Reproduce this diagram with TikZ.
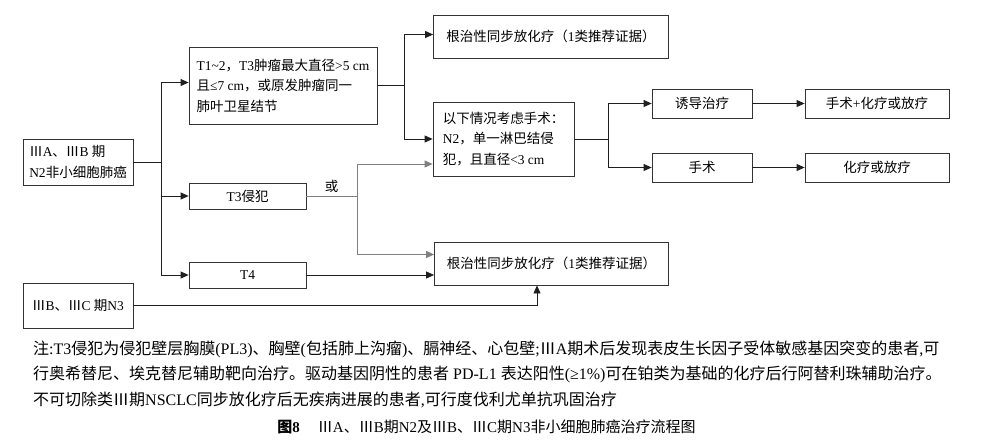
\documentclass[tikz,border=0pt]{standalone}
\usepackage{fontspec}
\setmainfont{Liberation Serif}
\newfontfamily\cjk{Noto Sans CJK SC}
\usetikzlibrary{arrows.meta}
% CJK characters switch to the CJK font, the rest stays serif
\XeTeXinterchartokenstate=1
\count255="4E00
\loop \XeTeXcharclass\count255=1 \advance\count255 1 \ifnum\count255<"A000 \repeat
\count255="3000
\loop \XeTeXcharclass\count255=1 \advance\count255 1 \ifnum\count255<"3040 \repeat
\count255="FF00
\loop \XeTeXcharclass\count255=1 \advance\count255 1 \ifnum\count255<"FF60 \repeat
\XeTeXcharclass"2162=1
\XeTeXinterchartoks 0 1 = {\cjk}
\XeTeXinterchartoks 4095 1 = {\cjk}
\XeTeXinterchartoks 1 0 = {\rmfamily}
\XeTeXinterchartoks 1 4095 = {\rmfamily}
\definecolor{boxc}{gray}{0.2}
\definecolor{linec}{gray}{0.12}
\definecolor{greyc}{gray}{0.5}

\begin{document}
\begin{tikzpicture}[x=1pt,y=-1pt,
    box/.style={draw=boxc, line width=0.8pt, inner sep=2pt, font=\fontsize{13.5}{20.5}\selectfont},
    link/.style={line width=0.8pt, draw=linec, -{Triangle[length=8pt,width=7pt]}},
    plain/.style={line width=0.8pt, draw=linec},
    note/.style={anchor=west, inner sep=0pt, font=\fontsize{16}{20}\selectfont}]
    \useasboundingbox (0,0) rectangle (981,444);

    % left column
    \node[box, minimum width=110pt, minimum height=46pt, align=left] (stage) at (78,162) {ⅢA、ⅢB 期\\N2非小细胞肺癌};
    \node[box, minimum width=110pt, minimum height=45pt] (nthree) at (78,305.5) {ⅢB、ⅢC 期N3};

    % T categories
    \node[box, minimum width=188pt, minimum height=77pt, align=left] (tsize) at (283,85.5) {T1\textasciitilde 2，T3肿瘤最大直径>5 cm\\且≤7 cm，或原发肿瘤同一\\肺叶卫星结节};
    \node[box, minimum width=117pt, minimum height=26pt] (tinv) at (247.5,196) {T3侵犯};
    \node[box, minimum width=117pt, minimum height=26pt] (tfour) at (247.5,275) {T4};

    % treatment
    \node[box, minimum width=235pt, minimum height=43pt] (crtA) at (551,36.5) {根治性同步放化疗（1类推荐证据）};
    \node[box, minimum width=141pt, minimum height=74pt, align=left] (surg) at (503.5,139) {以下情况考虑手术：\\N2，单一淋巴结侵\\犯，且直径<3 cm};
    \node[box, minimum width=234pt, minimum height=43pt] (crtB) at (551.5,263.5) {根治性同步放化疗（1类推荐证据）};
    \node[box, minimum width=100pt, minimum height=29pt] (induct) at (702,103.5) {诱导治疗};
    \node[box, minimum width=100pt, minimum height=29pt] (op) at (702,167.5) {手术};
    \node[box, minimum width=144pt, minimum height=29pt] (opchemo) at (877,103.5) {手术+化疗或放疗};
    \node[box, minimum width=144pt, minimum height=29pt] (chemo) at (877,167.5) {化疗或放疗};

    % connectors
    \coordinate (j1) at (161,162);
    \draw[plain] (stage.east) -- (j1);
    \draw[link] (j1) |- ([yshift=3pt]tsize.west);
    \draw[link] (j1) |- (tinv.west);
    \draw[link] (j1) |- (tfour.west);

    \coordinate (j2) at (404,85.5);
    \draw[plain] (tsize.east) -- (j2);
    \draw[link] (j2) |- ([yshift=2pt]crtA.west);
    \draw[link] (j2) |- (surg.west);

    \coordinate (j3) at (357,196);
    \draw[plain, draw=greyc] (tinv.east) -- (j3) node[midway, above, font=\fontsize{13.5}{16}\selectfont] (or) {或};
    \draw[link, draw=greyc] (j3) |- ([yshift=-25pt]surg.west);
    \draw[link, draw=greyc] (j3) |- ([yshift=9pt]crtB.west);
    \draw[link] (tfour.east) -- (tfour.east -| crtB.west);
    \draw[link] (nthree.east) -| ([xshift=-14.5pt]crtB.south);

    \coordinate (j4) at (608,139);
    \draw[plain] (surg.east) -- (j4);
    \draw[link] (j4) |- (induct.west);
    \draw[link] (j4) |- (op.west);
    \draw[link] (induct) -- (opchemo);
    \draw[link] (op) -- (chemo);

    % note and caption
    \node[note] (note1) at (33,349) {注:T3侵犯为侵犯壁层胸膜(PL3)、胸壁(包括肺上沟瘤)、膈神经、心包壁;ⅢA期术后发现表皮生长因子受体敏感基因突变的患者,可};
    \node[note] (note2) at (33,374) {行奥希替尼、埃克替尼辅助靶向治疗。驱动基因阴性的患者 PD-L1 表达阳性(≥1\%)可在铂类为基础的化疗后行阿替利珠辅助治疗。};
    \node[note] (note3) at (33,400) {不可切除类Ⅲ期NSCLC同步放化疗后无疾病进展的患者,可行度伐利尤单抗巩固治疗};
    \node[font=\fontsize{15}{18}\selectfont] (caption) at (486.5,427) {\textbf{图8}\hspace{1.2em}ⅢA、ⅢB期N2及ⅢB、ⅢC期N3非小细胞肺癌治疗流程图};
\end{tikzpicture}
\end{document}
